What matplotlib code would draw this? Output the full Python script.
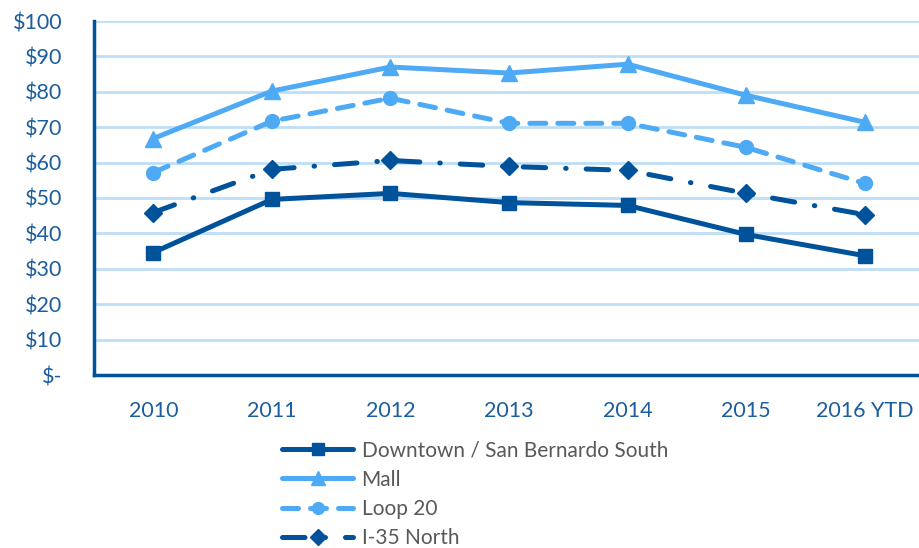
import matplotlib
matplotlib.use("Agg")
import matplotlib.pyplot as plt

plt.rcParams['font.family'] = ['Lato', 'DejaVu Sans']

years = ["2010", "2011", "2012", "2013", "2014", "2015", "2016 YTD"]
downtown = [34.6, 49.6, 51.3, 48.7, 47.9, 39.7, 33.7]
mall = [66.8, 80.2, 87.0, 85.3, 87.8, 79.0, 71.4]
loop20 = [57.2, 71.7, 78.2, 71.1, 71.1, 64.3, 54.1]
i35 = [45.9, 58.1, 60.6, 58.9, 57.8, 51.3, 45.3]

dark = "#00529B"
light = "#4EAAF5"
grid_c = "#BDDEF7"
tick_c = "#1B5EA0"

fig = plt.figure(figsize=(9.19, 5.48), dpi=100)
ax = fig.add_axes([94/919, 1-375/548, 830/919, 354/548])

x = range(len(years))
ax.plot(x, downtown, color=dark, lw=3.6, marker="s", ms=10, solid_capstyle="round",
        label="Downtown / San Bernardo South")
ax.plot(x, mall, color=light, lw=3.6, marker="^", ms=12, solid_capstyle="round",
        label="Mall")
ax.plot(x, loop20, color=light, lw=3.6, marker="o", ms=10, dashes=(3.2, 2.4),
        dash_capstyle="round", label="Loop 20")
ax.plot(x, i35, color=dark, lw=3.6, marker="D", ms=9, dashes=(4.5, 4, 0.1, 4),
        dash_capstyle="round", label="I-35 North")

ax.set_xlim(-0.5, 6.5)
ax.set_ylim(0, 100)
ax.set_yticks(range(0, 101, 10))
ax.set_yticklabels(["$-"] + ["$%d" % v for v in range(10, 101, 10)])
ax.set_xticks(list(x))
ax.set_xticklabels(years)
ax.yaxis.grid(True, color=grid_c, lw=2)
ax.set_axisbelow(True)
ax.tick_params(length=0, labelsize=15.5, colors=tick_c)
ax.tick_params(axis="x", pad=19)
ax.tick_params(axis="y", pad=23)
for s in ["top", "right"]:
    ax.spines[s].set_visible(False)
for s in ["left", "bottom"]:
    ax.spines[s].set_color(dark)
    ax.spines[s].set_linewidth(2.5)

leg = fig.legend(loc="upper left", bbox_to_anchor=(274/919, 1-432/548), frameon=False,
                 fontsize=15, handlelength=3.4, handletextpad=0.4, labelspacing=0.45,
                 borderaxespad=0, markerscale=0.85)
for t in leg.get_texts():
    t.set_color("#595959")

fig.savefig("out.png", dpi=100)
